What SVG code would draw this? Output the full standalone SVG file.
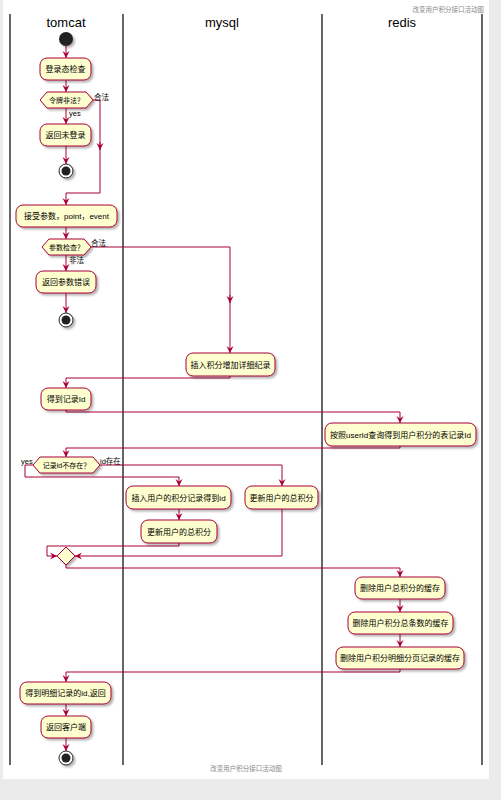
<svg xmlns="http://www.w3.org/2000/svg" width="501" height="800" viewBox="0 0 501 800">
<style>
.n rect{fill:#FEFECE;stroke:#A80036;stroke-width:1}
.n polygon{fill:#FEFECE;stroke:#A80036;stroke-width:1}
.n text,.lbl{font-family:"Liberation Sans","Noto Sans CJK SC",sans-serif;font-size:8px;fill:#000;text-anchor:middle}
.n .dt{font-size:7px}
.lbl{text-anchor:start;font-size:7.5px}
.c path{fill:none;stroke:#A80036;stroke-width:1;marker-end:url(#ah)}
.lane{stroke:#333;stroke-width:1.5}
.lt{font-family:"Liberation Sans","Noto Sans CJK SC",sans-serif;font-size:13px;fill:#000;text-anchor:middle}
.cap{font-family:"Liberation Sans","Noto Sans CJK SC",sans-serif;font-size:6.5px;fill:#888}
.sh{filter:url(#shadow)}
</style>
<defs>
<marker id="ah" viewBox="0 -4 8 8" refX="7" refY="0" markerWidth="8" markerHeight="8" markerUnits="userSpaceOnUse" orient="auto">
<path d="M0,-3.5 L7,0 L0,3.5 L2.5,0 z" fill="#A80036"/>
</marker>
<filter id="shadow" x="-20%" y="-20%" width="150%" height="170%">
<feGaussianBlur in="SourceAlpha" stdDeviation="1"/>
<feOffset dx="1.5" dy="1.5" result="b"/>
<feComponentTransfer><feFuncA type="linear" slope="0.3"/></feComponentTransfer>
<feMerge><feMergeNode/><feMergeNode in="SourceGraphic"/></feMerge>
</filter>
</defs>
<rect x="0" y="0" width="501" height="800" fill="#EBEBEB"/>
<rect x="3" y="0" width="486" height="779" fill="#FFFFFF"/>
<text class="cap" x="484" y="12" text-anchor="end">改变用户积分接口活动图</text>
<text class="cap" x="246" y="771" text-anchor="middle">改变用户积分接口活动图</text>
<g id="lanes">
<line class="lane" x1="10" y1="14" x2="10" y2="765"/>
<line class="lane" x1="123" y1="14" x2="123" y2="765"/>
<line class="lane" x1="322" y1="14" x2="322" y2="765"/>
<line class="lane" x1="482" y1="14" x2="482" y2="765"/>
<text class="lt" x="66" y="27">tomcat</text>
<text class="lt" x="222" y="27">mysql</text>
<text class="lt" x="402" y="27">redis</text>
</g>
<g id="connectors" class="c">
<path d="M66,46 L66,58"/>
<path d="M66,80 L66,92"/>
<path d="M66,108 L66,124"/>
<path d="M66,146 L66,164"/>
<path d="M93,100 L100,100 L100,193 L66,193 L66,205"/>
<path d="M100,142 L100,150"/>
<path d="M66,227 L66,239"/>
<path d="M66,255 L66,271"/>
<path d="M66,293 L66,313"/>
<path d="M91,247 L230,247 L230,353"/>
<path d="M230,295 L230,303"/>
<path d="M230,376 L230,378 L66,378 L66,388"/>
<path d="M66,410 L66,412 L400,412 L400,423"/>
<path d="M400,446 L400,448 L66,448 L66,457"/>
<path d="M33,465 L25,465 L25,477 L179,477 L179,486"/>
<path d="M100,465 L282,465 L282,486"/>
<path d="M179,509 L179,520"/>
<path d="M179,543 L179,546 L47,546 L47,556 L57,556"/>
<path d="M282,509 L282,556 L75,556"/>
<path d="M66,565 L66,568 L400,568 L400,577"/>
<path d="M400,599 L400,612"/>
<path d="M400,634 L400,647"/>
<path d="M400,669 L400,672 L66,672 L66,682"/>
<path d="M66,704 L66,716"/>
<path d="M66,738 L66,751"/>
<text class="lbl" x="94" y="100" style="stroke:none">合法</text>
<text class="lbl" x="69" y="116" style="stroke:none">yes</text>
<text class="lbl" x="91" y="246" style="stroke:none">合法</text>
<text class="lbl" x="69" y="263" style="stroke:none">非法</text>
<text class="lbl" x="21" y="464" style="stroke:none">yes</text>
<text class="lbl" x="100" y="464" style="stroke:none">id存在</text>
</g>
<g id="start"><circle cx="66" cy="39" r="7" fill="#222" class="sh"/></g>
<g id="n1" class="n"><rect class="sh" x="40" y="58" width="51" height="22" rx="7"/><text x="65.5" y="72">登录态检查</text></g>
<g id="d1" class="n"><polygon class="sh" points="40,100 47,92 86,92 93,100 86,108 47,108"/><text class="dt" x="66.5" y="102.5">令牌非法？</text></g>
<g id="n2" class="n"><rect class="sh" x="40" y="124" width="51" height="22" rx="7"/><text x="65.5" y="138">返回未登录</text></g>
<g id="end1" class="sh"><circle cx="66" cy="171" r="7" fill="#fff" stroke="#222" stroke-width="1"/><circle cx="66" cy="171" r="4.5" fill="#222"/></g>
<g id="n3" class="n"><rect class="sh" x="16" y="205" width="101" height="22" rx="7"/><text x="66.5" y="219">接受参数，point，event</text></g>
<g id="d2" class="n"><polygon class="sh" points="42,247 49,239 84,239 91,247 84,255 49,255"/><text class="dt" x="66.5" y="249.5">参数检查？</text></g>
<g id="n4" class="n"><rect class="sh" x="36" y="271" width="60" height="22" rx="7"/><text x="66" y="285">返回参数错误</text></g>
<g id="end2" class="sh"><circle cx="66" cy="320" r="7" fill="#fff" stroke="#222" stroke-width="1"/><circle cx="66" cy="320" r="4.5" fill="#222"/></g>
<g id="n5" class="n"><rect class="sh" x="186" y="353" width="89" height="23" rx="7"/><text x="230.5" y="367.5">插入积分增加详细纪录</text></g>
<g id="n6" class="n"><rect class="sh" x="41" y="388" width="50" height="22" rx="7"/><text x="66" y="402">得到记录Id</text></g>
<g id="n7" class="n"><rect class="sh" x="325" y="423" width="151" height="23" rx="7"/><text x="400.5" y="437.5">按照userId查询得到用户积分的表记录Id</text></g>
<g id="d3" class="n"><polygon class="sh" points="33,465 40,457 93,457 100,465 93,473 40,473"/><text class="dt" x="66.5" y="467.5">记录id不存在？</text></g>
<g id="n8" class="n"><rect class="sh" x="126" y="486" width="105" height="23" rx="7"/><text x="178.5" y="500.5">插入用户的积分记录得到id</text></g>
<g id="n9" class="n"><rect class="sh" x="245" y="486" width="73" height="23" rx="7"/><text x="281.5" y="500.5">更新用户的总积分</text></g>
<g id="n10" class="n"><rect class="sh" x="141" y="520" width="76" height="23" rx="7"/><text x="179" y="534.5">更新用户的总积分</text></g>
<g id="merge" class="n"><polygon class="sh" points="57,556 66,547 75,556 66,565"/></g>
<g id="n11" class="n"><rect class="sh" x="355" y="577" width="90" height="22" rx="7"/><text x="400" y="591">删除用户总积分的缓存</text></g>
<g id="n12" class="n"><rect class="sh" x="348" y="612" width="105" height="22" rx="7"/><text x="400.5" y="626">删除用户积分总条数的缓存</text></g>
<g id="n13" class="n"><rect class="sh" x="336" y="647" width="128" height="22" rx="7"/><text x="400" y="661">删除用户积分明细分页记录的缓存</text></g>
<g id="n14" class="n"><rect class="sh" x="20" y="682" width="91" height="22" rx="7"/><text x="65.5" y="696">得到明细记录的id,返回</text></g>
<g id="n15" class="n"><rect class="sh" x="41" y="716" width="50" height="22" rx="7"/><text x="66" y="730">返回客户端</text></g>
<g id="end3" class="sh"><circle cx="66" cy="758" r="7" fill="#fff" stroke="#222" stroke-width="1"/><circle cx="66" cy="758" r="4.5" fill="#222"/></g>
</svg>
